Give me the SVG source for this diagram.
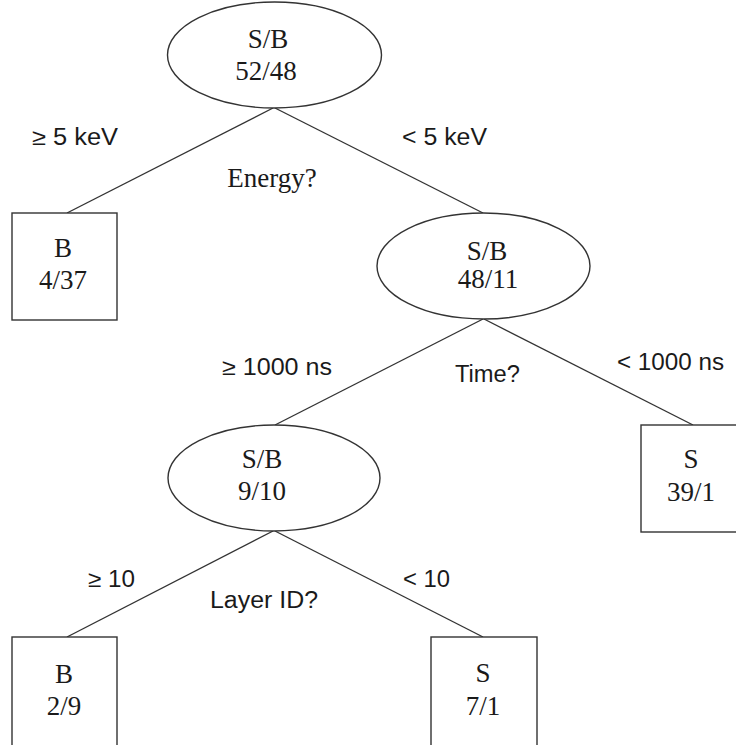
<svg xmlns="http://www.w3.org/2000/svg" width="736" height="745" viewBox="0 0 736 745">
<style>
.shape{fill:#fff;stroke:#333;stroke-width:1.4}
.edge{stroke:#333;stroke-width:1.4;fill:none}
.serif{font-family:"Liberation Serif","Times New Roman",serif;font-size:27px;fill:#1a1a1a;text-anchor:middle}
.sans{font-family:"Liberation Sans",Arial,sans-serif;font-size:23px;fill:#1a1a1a}
</style>
<rect width="736" height="745" fill="#fff"/>
<g id="connectors">
<line class="edge" x1="273" y1="108" x2="67" y2="213"/>
<line class="edge" x1="275" y1="108" x2="483" y2="213"/>
<line class="edge" x1="483" y1="319" x2="275" y2="425"/>
<line class="edge" x1="484" y1="319" x2="693" y2="425"/>
<line class="edge" x1="273" y1="531" x2="67" y2="637"/>
<line class="edge" x1="275" y1="531" x2="483" y2="637"/>
</g>
<g id="labels">
<text class="sans" x="32" y="145" textLength="86" lengthAdjust="spacingAndGlyphs">≥ 5 keV</text>
<text class="sans" x="402" y="145" textLength="85" lengthAdjust="spacingAndGlyphs">&lt; 5 keV</text>
<text class="serif" x="272" y="187">Energy?</text>
<text class="sans" x="222" y="375" textLength="110" lengthAdjust="spacingAndGlyphs">≥ 1000 ns</text>
<text class="sans" x="455" y="382" textLength="65" lengthAdjust="spacingAndGlyphs">Time?</text>
<text class="sans" x="617" y="370" textLength="107" lengthAdjust="spacingAndGlyphs">&lt; 1000 ns</text>
<text class="sans" x="88" y="587" textLength="47" lengthAdjust="spacingAndGlyphs">≥ 10</text>
<text class="sans" x="210" y="608" textLength="108" lengthAdjust="spacingAndGlyphs">Layer ID?</text>
<text class="sans" x="403" y="587" textLength="47" lengthAdjust="spacingAndGlyphs">&lt; 10</text>
</g>
<g id="root">
<ellipse class="shape" cx="274.5" cy="55" rx="107" ry="53"/>
<text class="serif" x="268" y="48">S/B</text>
<text class="serif" x="266" y="80">52/48</text>
</g>
<g id="leafB1">
<rect class="shape" x="12" y="213" width="105" height="107"/>
<text class="serif" x="63" y="257">B</text>
<text class="serif" x="63" y="289">4/37</text>
</g>
<g id="node2">
<ellipse class="shape" cx="483.5" cy="266" rx="106.5" ry="53"/>
<text class="serif" x="487" y="260">S/B</text>
<text class="serif" x="488" y="288">48/11</text>
</g>
<g id="node3">
<ellipse class="shape" cx="274" cy="478" rx="106" ry="53"/>
<text class="serif" x="262" y="468">S/B</text>
<text class="serif" x="262" y="500">9/10</text>
</g>
<g id="leafS1">
<rect class="shape" x="641" y="425" width="105" height="107"/>
<text class="serif" x="691" y="468">S</text>
<text class="serif" x="691" y="501">39/1</text>
</g>
<g id="leafB2">
<rect class="shape" x="12" y="637" width="105" height="115"/>
<text class="serif" x="64" y="683">B</text>
<text class="serif" x="64" y="715">2/9</text>
</g>
<g id="leafS2">
<rect class="shape" x="431" y="637" width="106" height="115"/>
<text class="serif" x="483" y="682">S</text>
<text class="serif" x="483" y="715">7/1</text>
</g>
</svg>
